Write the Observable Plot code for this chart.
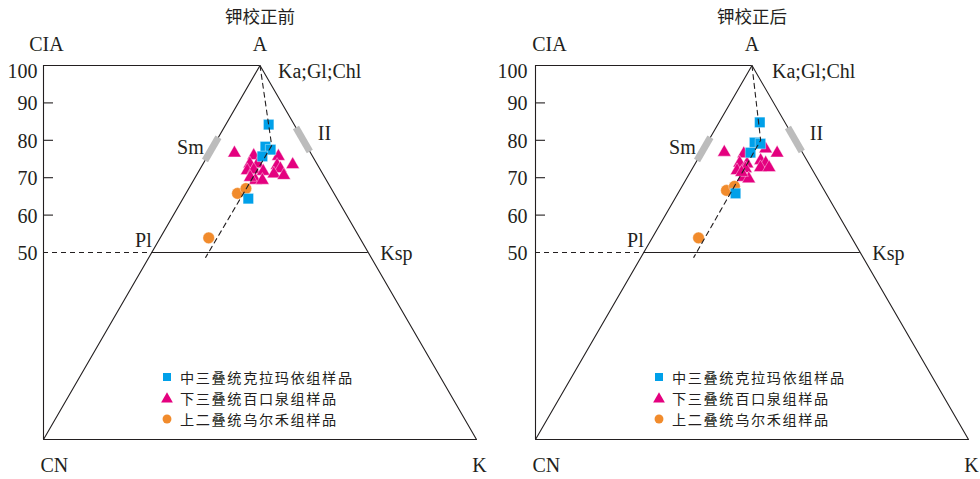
<!DOCTYPE html>
<html>
<head>
<meta charset="utf-8">
<script src="https://cdn.jsdelivr.net/npm/d3@7"></script>
<script src="https://cdn.jsdelivr.net/npm/@observablehq/plot@0.6"></script>
<style>
  body { margin: 0; background: #fff; }
  #wrap { position: relative; width: 980px; height: 479px; display: flex; }
  .panel { position: relative; width: 490px; height: 479px; }
  .panel svg { display: block; }
  .legend { position: absolute; top: 366.5px; font-family: "Noto Sans CJK SC", sans-serif; font-size: 14.2px; letter-spacing: 1.6px; line-height: 18px; color: #231f20; }
  .legend .item { display: flex; align-items: center; height: 21px; white-space: nowrap; }
  .legend span { line-height: 18px; }
  .legend svg { margin-right: 7px; }
</style>
</head>
<body>
<div id="wrap"></div>
<script>
// ---------- data ----------
const titles = ["钾校正前", "钾校正后"];
const ciaTicks = [50, 60, 70, 80, 90, 100];
const minorTicks = [60, 70, 80, 90];
const seriesNames = ["中三叠统克拉玛依组样品", "下三叠统百口泉组样品", "上二叠统乌尔禾组样品"];
const seriesColors = ["#00a0e9", "#e4007f", "#f18b2c"];
const seriesSymbols = ["square", "triangle", "circle"];
const vertexLabels = ["CN", "K", "A"];
const mineralLabels = ["Ka;Gl;Chl", "Sm", "II", "Pl", "Ksp"];

// A (≈CIA) and K percentages per sample; CN = 100 - A - K
// before correction
const preKelamayiA = [84.2, 78.3, 77.5, 75.7, 64.4];
const preKelamayiK = [9.9, 12.1, 13.7, 12.7, 15.1];
const preBaikouquanA = [76.6, 75.9, 75.7, 73.5, 73.7, 73.7, 71.9, 72.1, 71.7, 73.3, 72.4, 71.0, 70.6, 69.3, 69.3, 70.1];
const preBaikouquanK = [5.8, 10.6, 16.4, 20.8, 10.8, 12.6, 11.1, 12.5, 14.9, 17.3, 18.5, 17.7, 20.2, 14.3, 15.9, 12.7];
const preWuerheA = [53.9, 65.8, 67.1];
const preWuerheK = [11.2, 11.9, 13.2];
const preTrendA = [100, 78.6, 48.7];
const preTrendK = [0, 13.4, 13.1];
// after correction
const postKelamayiA = [84.8, 79.4, 79.1, 76.7, 65.8];
const postKelamayiK = [9.4, 10.9, 12.4, 11.3, 13.3];
const postBaikouquanA = [76.8, 76.4, 77.7, 76.6, 73.9, 73.7, 74.6, 73.9, 71.9, 72.4, 72.7, 72.7, 70.1, 69.7, 71.4];
const postBaikouquanK = [5.2, 9.9, 14.3, 17.5, 10.2, 12.0, 14.7, 16.2, 10.6, 12.3, 15.6, 17.6, 13.0, 14.4, 11.9];
const postWuerheA = [53.9, 66.6, 67.7];
const postWuerheK = [10.7, 10.8, 12.1];
const postTrendA = [100, 80.0, 48.7];
const postTrendK = [0, 12.0, 12.2];

// mineral reference ranges (A, on the edges)
const smectiteA = [74.6, 80.8];   // on CN–A edge (K = 0)
const illiteA = [77.0, 83.4];     // on A–K edge (CN = 0)

// ---------- helpers ----------
const zip = (A, K) => A.map((a, i) => ({A: a, K: K[i]}));
const tx = d => d.K / 100 + d.A / 200;   // ternary -> x fraction
const ty = d => d.A;                     // vertical = A (CIA)

const panels = [
  {title: titles[0], x0: 43, kel: zip(preKelamayiA, preKelamayiK), bai: zip(preBaikouquanA, preBaikouquanK),
   wue: zip(preWuerheA, preWuerheK), trend: zip(preTrendA, preTrendK), ciaDx: 3, tickDx: -6, kaDx: 18},
  {title: titles[1], x0: 45, kel: zip(postKelamayiA, postKelamayiK), bai: zip(postBaikouquanA, postBaikouquanK),
   wue: zip(postWuerheA, postWuerheK), trend: zip(postTrendA, postTrendK), ciaDx: 14, tickDx: -8, kaDx: 20}
];

const ink = "#231f20";
const serif = "Liberation Serif, Times New Roman, serif";
const cjk = "Noto Sans CJK SC, sans-serif";

function makePanel(p) {
  const outline = [{A: 0, K: 0}, {A: 0, K: 100}, {A: 100, K: 0}, {A: 0, K: 0}];
  const smBar = smectiteA.map(a => ({A: a, K: 0}));
  const ilBar = illiteA.map(a => ({A: a, K: 100 - a}));
  const smMid = {A: d3.mean(smectiteA), K: 0};
  const ilMid = {A: d3.mean(illiteA), K: 100 - d3.mean(illiteA)};
  const tickLen = 10 / 433;
  const T = (arr, o) => Plot.text(arr, Object.assign({x: tx, y: ty, fill: ink, fontFamily: serif, fontSize: 20}, o));
  return Plot.plot({
    width: 490,
    height: 479,
    x: {domain: [0, 1], range: [p.x0, p.x0 + 433], axis: null},
    y: {domain: [0, 100], range: [439, 65], axis: null},
    style: {background: "transparent", overflow: "visible"},
    marks: [
      // frame
      Plot.line(outline, {x: tx, y: ty, stroke: ink, strokeWidth: 1.1}),
      Plot.ruleX([0], {y1: 0, y2: 100, stroke: ink, strokeWidth: 1.1}),
      Plot.ruleY([100], {x1: 0, x2: 0.5, stroke: ink, strokeWidth: 1.1}),
      Plot.ruleY(minorTicks, {x1: 0, x2: tickLen, stroke: ink, strokeWidth: 1.1}),
      Plot.ruleY([50], {x1: 0, x2: 0.25, stroke: ink, strokeWidth: 1, strokeDasharray: "5,4"}),
      Plot.ruleY([50], {x1: 0.25, x2: 0.75, stroke: ink, strokeWidth: 1.1}),
      // mineral bars
      Plot.line(smBar, {x: tx, y: ty, stroke: "#bcbcbc", strokeWidth: 7, strokeLinecap: "butt"}),
      Plot.line(ilBar, {x: tx, y: ty, stroke: "#bcbcbc", strokeWidth: 7, strokeLinecap: "butt"}),
      // samples
      Plot.dot(p.bai, {x: tx, y: ty, symbol: seriesSymbols[1], r: 5, fill: seriesColors[1], stroke: "#fff", strokeWidth: 0.4}),
      Plot.dot(p.wue, {x: tx, y: ty, symbol: seriesSymbols[2], r: 5.8, fill: seriesColors[2], stroke: "#fff", strokeWidth: 0.4}),
      Plot.dot(p.kel, {x: tx, y: ty, symbol: seriesSymbols[0], r: 5.9, fill: seriesColors[0], stroke: "#fff", strokeWidth: 0.4}),
      // trend line
      Plot.line(p.trend, {x: tx, y: ty, stroke: ink, strokeWidth: 1.1, strokeDasharray: "5,4"}),
      // axis tick labels
      Plot.text(ciaTicks.filter(t => t < 100), {x: 0, y: d => d, text: d => String(d), textAnchor: "end", dx: p.tickDx, dy: 1, fill: ink, fontFamily: serif, fontSize: 20}),
      Plot.text(ciaTicks.filter(t => t === 100), {x: 0, y: d => d, text: d => String(d), textAnchor: "end", dx: p.tickDx, dy: 6, fill: ink, fontFamily: serif, fontSize: 20}),
      // labels
      T([{A: 100, K: -50}], {text: () => "CIA", dx: p.ciaDx, dy: -21}),
      T([{A: 100, K: 0}], {text: () => vertexLabels[2], dy: -21}),
      T([{A: 0, K: 0}], {text: () => vertexLabels[0], textAnchor: "start", dx: -3, dy: 26}),
      T([{A: 0, K: 100}], {text: () => vertexLabels[1], dx: 3, dy: 26}),
      T([{A: 100, K: 0}], {text: () => mineralLabels[0], textAnchor: "start", dx: p.kaDx, dy: 6}),
      T([smMid], {text: () => mineralLabels[1], textAnchor: "end", dx: -8, dy: -1}),
      T([ilMid], {text: () => mineralLabels[2], textAnchor: "start", dx: 15, dy: -6}),
      T([{A: 50, K: 0}], {text: () => mineralLabels[3], textAnchor: "end", dx: 0, dy: -12}),
      T([{A: 50, K: 50}], {text: () => mineralLabels[4], textAnchor: "start", dx: 12, dy: 1}),
      // title
      Plot.text([p.title], {x: 0.5, y: 100, text: d => d, dy: -48, fill: ink, fontFamily: cjk, fontSize: 17.5})
    ]
  });
}

function legendSymbol(sym, color) {
  const s = d3.create("svg").attr("width", 12).attr("height", 12);
  const shapes = {square: d3.symbolSquare, triangle: d3.symbolTriangle, circle: d3.symbolCircle};
  const size = sym === "square" ? 64 : sym === "triangle" ? 60 : 62;
  s.append("path").attr("transform", sym === "triangle" ? "translate(6,7)" : "translate(6,6)")
    .attr("d", d3.symbol(shapes[sym], size)()).attr("fill", color);
  return s.node();
}

const wrap = document.getElementById("wrap");
panels.forEach((p) => {
  const div = document.createElement("div");
  div.className = "panel";
  div.appendChild(makePanel(p));
  const lg = document.createElement("div");
  lg.className = "legend";
  lg.style.left = (p.x0 + 118) + "px";
  seriesNames.forEach((name, k) => {
    const it = document.createElement("div");
    it.className = "item";
    it.appendChild(legendSymbol(seriesSymbols[k], seriesColors[k]));
    const sp = document.createElement("span");
    sp.textContent = name;
    it.appendChild(sp);
    lg.appendChild(it);
  });
  div.appendChild(lg);
  wrap.appendChild(div);
});
</script>
</body>
</html>
